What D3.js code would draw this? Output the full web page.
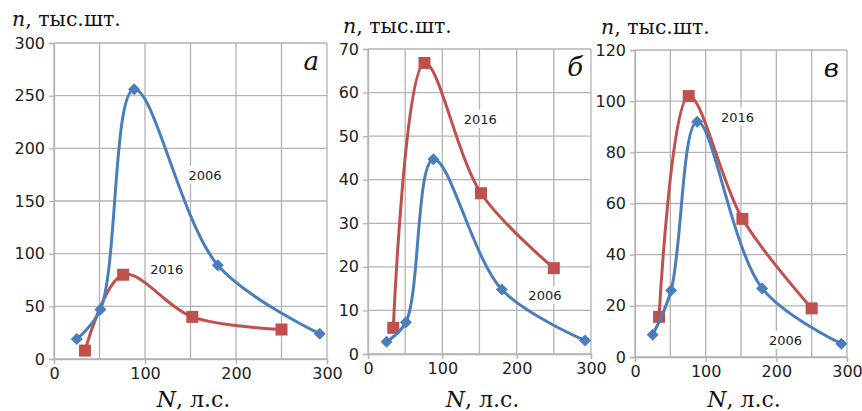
<!DOCTYPE html>
<html lang="ru">
<head>
<meta charset="UTF-8">
<title>n, тыс.шт. vs N, л.с.</title>
<script src="https://d3js.org/d3.v7.min.js"></script>
<style>
  body { margin: 0; background: #fff; }
</style>
</head>
<body>
<svg id="chart" width="862" height="411"></svg>
<script>
// engine power, л.с. (same points in every panel)
const hp2006 = [25, 51, 88, 180, 292];
const hp2016 = [34, 76, 152, 250];

// n, тыс.шт.
const a2006 = [19, 47, 256, 89, 24];
const a2016 = [8, 80, 40, 28];
const b2006 = [2.8, 7.3, 44.7, 14.8, 3.1];
const b2016 = [6, 66.8, 36.9, 19.7];
const c2006 = [8.7, 26, 92, 26.8, 5.2];
const c2016 = [15.7, 102, 54, 19];

const xTicks = [0, 100, 200, 300];
const aTicks = [0, 50, 100, 150, 200, 250, 300];
const bTicks = [0, 10, 20, 30, 40, 50, 60, 70];
const cTicks = [0, 20, 40, 60, 80, 100, 120];

// where the "2006" / "2016" labels sit, in data units [N, n]
const aLabels = [[166, 175], [124, 85]];
const bLabels = [[238, 13.5], [151, 54]];
const cLabels = [[213, 6.6], [145, 94]];

const panels = [
  { letter: "a", s06: a2006, s16: a2016, ticks: aTicks, labels: aLabels,
    box: { l: 54, r: 327, t: 43, b: 359 }, titleX: 12, titleY: 26 },
  { letter: "б", s06: b2006, s16: b2016, ticks: bTicks, labels: bLabels,
    box: { l: 368, r: 591, t: 49, b: 354 }, titleX: 343, titleY: 33 },
  { letter: "в", s06: c2006, s16: c2016, ticks: cTicks, labels: cLabels,
    box: { l: 635, r: 847, t: 50, b: 357 }, titleX: 601, titleY: 34 }
];

const blue = "#4a7ebb";
const red = "#c0504d";
const grid = "#b3b3b3";

const svg = d3.select("#chart");

panels.forEach(p => {
  const bx = p.box;
  const x = d3.scaleLinear().domain([0, 300]).range([bx.l, bx.r]);
  const yMax = p.ticks[p.ticks.length - 1];
  const y = d3.scaleLinear().domain([0, yMax]).range([bx.b, bx.t]);
  const g = svg.append("g");

  // grid
  g.selectAll("line.v").data(d3.range(0, 301, 50)).enter().append("line")
    .attr("x1", d => x(d)).attr("x2", d => x(d))
    .attr("y1", y(0)).attr("y2", y(yMax))
    .attr("stroke", grid).attr("stroke-width", 1.3);
  g.selectAll("line.h").data(p.ticks).enter().append("line")
    .attr("x1", x(0)).attr("x2", x(300))
    .attr("y1", d => y(d)).attr("y2", d => y(d))
    .attr("stroke", grid).attr("stroke-width", 1.3);

  // axes
  const yAxis = g.append("g").attr("transform", `translate(${x(0)},0)`)
    .call(d3.axisLeft(y).tickValues(p.ticks).tickSize(5).tickPadding(4));
  const xAxis = g.append("g").attr("transform", `translate(0,${y(0)})`)
    .call(d3.axisBottom(x).tickValues(xTicks).tickSize(5).tickPadding(4));
  [yAxis, xAxis].forEach(ax => {
    ax.attr("font-size", 16).attr("font-family", "DejaVu Sans");
    ax.select(".domain").attr("stroke", grid).attr("stroke-width", 1.3);
    ax.selectAll(".tick line").attr("stroke", grid).attr("stroke-width", 1.3);
    ax.selectAll(".tick text").attr("fill", "#222");
  });

  // series
  const line = d3.line().x(d => x(d[0])).y(d => y(d[1]))
    .curve(d3.curveCatmullRom.alpha(0.5));
  const pts16 = hp2016.map((h, i) => [h, p.s16[i]]);
  const pts06 = hp2006.map((h, i) => [h, p.s06[i]]);

  g.append("path").datum(pts16).attr("d", line)
    .attr("fill", "none").attr("stroke", red).attr("stroke-width", 3);
  g.selectAll("rect.sq").data(pts16).enter().append("rect")
    .attr("x", d => x(d[0]) - 6).attr("y", d => y(d[1]) - 6)
    .attr("width", 12).attr("height", 12).attr("fill", red);

  g.append("path").datum(pts06).attr("d", line)
    .attr("fill", "none").attr("stroke", blue).attr("stroke-width", 3);
  g.selectAll("path.dia").data(pts06).enter().append("path")
    .attr("d", "M0,-6L6,0L0,6L-6,0Z")
    .attr("transform", d => `translate(${x(d[0])},${y(d[1])})`)
    .attr("fill", blue);

  // year labels with white backing
  ["2006", "2016"].forEach((txt, i) => {
    const lx = x(p.labels[i][0]), ly = y(p.labels[i][1]);
    g.append("rect").attr("x", lx - 19).attr("y", ly - 9)
      .attr("width", 38).attr("height", 18).attr("fill", "#fff");
    g.append("text")
      .attr("font-family", "DejaVu Sans").attr("font-size", 13)
      .attr("fill", "#222")
      .attr("x", lx).attr("y", ly + 5).attr("text-anchor", "middle")
      .text(txt);
  });

  // panel letter
  g.append("text")
    .attr("font-family", "DejaVu Serif").attr("font-size", 26).attr("font-style", "italic")
    .attr("fill", "#111")
    .attr("x", x(300) - 8).attr("y", bx.t + 27)
    .attr("text-anchor", "end")
    .text(p.letter);

  // y title
  const t = g.append("text")
    .attr("font-family", "DejaVu Serif").attr("font-size", 20.5)
    .attr("fill", "#111")
    .attr("x", p.titleX).attr("y", p.titleY);
  t.append("tspan").attr("font-style", "italic").text("n");
  t.append("tspan").text(", тыс.шт.");

  // x title
  const xt = g.append("text")
    .attr("font-family", "DejaVu Serif").attr("font-size", 22)
    .attr("fill", "#111")
    .attr("x", (bx.l + bx.r) / 2 + 3).attr("y", 407)
    .attr("text-anchor", "middle");
  xt.append("tspan").attr("font-style", "italic").text("N");
  xt.append("tspan").text(", л.с.");
});
</script>
</body>
</html>
